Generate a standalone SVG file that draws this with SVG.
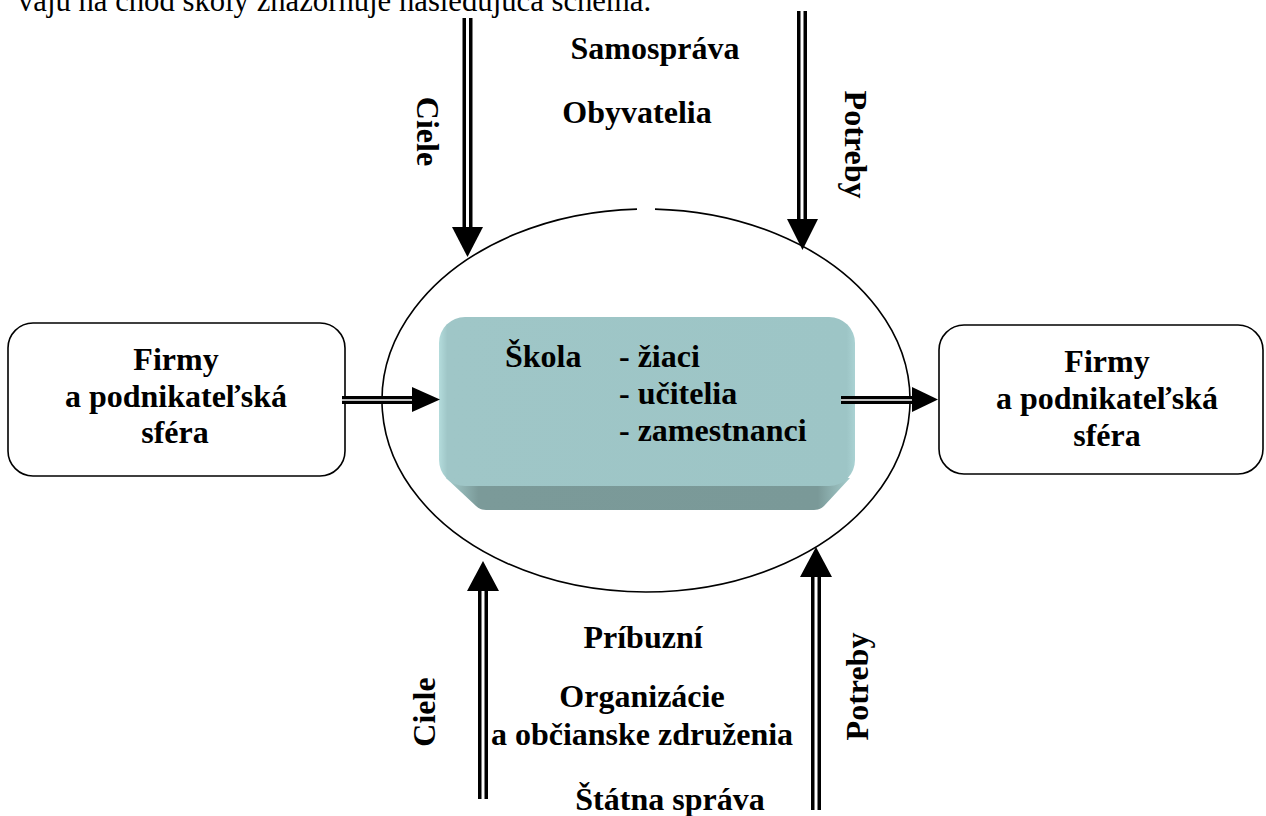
<svg xmlns="http://www.w3.org/2000/svg" width="1266" height="816" viewBox="0 0 1266 816">
<style>
  .t{font-family:"Liberation Serif","Times New Roman",serif;font-weight:bold;font-size:32px;fill:#000}
  .body{font-family:"Liberation Serif","Times New Roman",serif;font-size:30.7px;fill:#000}
  .mid{text-anchor:middle}
  .box{fill:#fff;stroke:#000;stroke-width:1.6}
  .dblo{stroke:#000;stroke-width:10;fill:none}
  .dbli{stroke:#fff;stroke-width:3;fill:none}
  .head{fill:#000}
</style>
<defs>
  <linearGradient id="face" x1="0" y1="0" x2="1" y2="0">
    <stop offset="0" stop-color="#b4dcdc"/>
    <stop offset="0.02" stop-color="#9fc6c7"/>
    <stop offset="0.98" stop-color="#9dc5c6"/>
    <stop offset="1" stop-color="#aad2d3"/>
  </linearGradient>
  <linearGradient id="band" x1="0" y1="0" x2="1" y2="0">
    <stop offset="0" stop-color="#a5cdcd"/>
    <stop offset="0.08" stop-color="#7b9a99"/>
    <stop offset="0.92" stop-color="#7a9998"/>
    <stop offset="1" stop-color="#a5cdcd"/>
  </linearGradient>
</defs>
<rect width="1266" height="816" fill="#fff"/>

<text class="body" x="18" y="11">vajú na chod školy znázorňuje nasledujúca schéma.</text>

<g id="ellipse">
  <path d="M655,209.1 A264,191.5 0 1,1 637,209.1" fill="none" stroke="#000" stroke-width="1.6"/>
</g>

<g id="skola">
  <path d="M446,478 L476,506 Q480,510 486,510 L814,510 Q820,510 824,506 L850,478 Z" fill="url(#band)"/>
  <rect x="439" y="317" width="416" height="169" rx="26" ry="26" fill="url(#face)"/>
  <text class="t" x="505" y="367">Škola</text>
  <text class="t" x="619" y="367">- žiaci</text>
  <text class="t" x="619" y="404">- učitelia</text>
  <text class="t" x="619" y="441">- zamestnanci</text>
</g>

<g id="firmy-left">
  <rect class="box" x="8" y="323" width="337" height="153" rx="25" ry="25"/>
  <text class="t mid" x="176" y="370">Firmy</text>
  <text class="t mid" x="176" y="407">a podnikateľská</text>
  <text class="t mid" x="175" y="443">sféra</text>
</g>

<g id="firmy-right">
  <rect class="box" x="939" y="325" width="324" height="149" rx="25" ry="25"/>
  <text class="t mid" x="1107" y="372">Firmy</text>
  <text class="t mid" x="1107" y="409">a podnikateľská</text>
  <text class="t mid" x="1107" y="446">sféra</text>
</g>

<g id="top-labels">
  <text class="t mid" x="655" y="59">Samospráva</text>
  <text class="t mid" x="637" y="123">Obyvatelia</text>
  <text class="t mid" transform="translate(417,131.5) rotate(90)" x="0" y="0">Ciele</text>
  <text class="t mid" transform="translate(845,144.5) rotate(90)" x="0" y="0">Potreby</text>
</g>

<g id="bottom-labels">
  <text class="t mid" x="643" y="648">Príbuzní</text>
  <text class="t mid" x="642" y="707">Organizácie</text>
  <text class="t mid" x="642" y="745">a občianske združenia</text>
  <text class="t mid" x="670" y="810">Štátna správa</text>
  <text class="t mid" transform="translate(435,712) rotate(-90)" x="0" y="0">Ciele</text>
  <text class="t mid" transform="translate(868,686.5) rotate(-90)" x="0" y="0">Potreby</text>
</g>

<g id="connectors">
  <!-- top left: Ciele down -->
  <line class="dblo" x1="467.5" y1="18" x2="467.5" y2="229"/>
  <line class="dbli" x1="467.5" y1="18" x2="467.5" y2="229"/>
  <polygon class="head" points="452,227 483,227 467.5,257"/>
  <!-- top right: Potreby down -->
  <line class="dblo" x1="802" y1="11" x2="802" y2="221"/>
  <line class="dbli" x1="802" y1="11" x2="802" y2="221"/>
  <polygon class="head" points="787,219 818,219 802.5,250"/>
  <!-- bottom left: Ciele up -->
  <line class="dblo" x1="483" y1="589" x2="483" y2="799"/>
  <line class="dbli" x1="483" y1="589" x2="483" y2="799"/>
  <polygon class="head" points="467,591 499,591 483,561"/>
  <!-- bottom right: Potreby up -->
  <line class="dblo" x1="816" y1="575" x2="816" y2="810"/>
  <line class="dbli" x1="816" y1="575" x2="816" y2="810"/>
  <polygon class="head" points="800,577 832,577 816,547"/>
  <!-- left horizontal -->
  <line x1="342" y1="400" x2="414" y2="400" stroke="#000" stroke-width="8"/>
  <line x1="342" y1="400" x2="414" y2="400" stroke="#fff" stroke-width="1.6"/>
  <polygon class="head" points="412,387 412,412 440,399.5"/>
  <!-- right horizontal -->
  <line x1="841" y1="400" x2="914" y2="400" stroke="#000" stroke-width="8"/>
  <line x1="841" y1="400" x2="914" y2="400" stroke="#fff" stroke-width="1.6"/>
  <polygon class="head" points="912,387 912,412 938,399.5"/>
</g>
</svg>
